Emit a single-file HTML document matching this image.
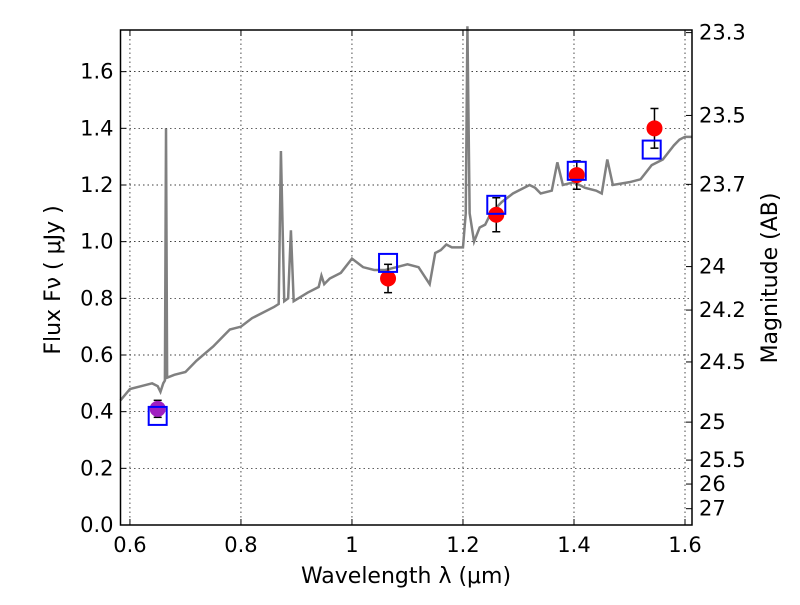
<!DOCTYPE html>
<html><head><meta charset="utf-8"><style>
body{margin:0;background:#fff}
svg{font-family:"DejaVu Sans","Liberation Sans",sans-serif}
</style></head><body>
<svg id="c" width="800" height="600"></svg>
<script>
const specX=[0.583,0.6,0.62,0.64,0.65,0.655,0.66,0.663,0.665,0.667,0.68,0.7,0.72,0.75,0.77,0.78,0.8,0.82,0.84,0.86,0.868,0.872,0.878,0.885,0.89,0.895,0.92,0.94,0.945,0.95,0.96,0.98,1.0,1.02,1.04,1.06,1.08,1.1,1.12,1.14,1.15,1.16,1.17,1.18,1.2,1.205,1.208,1.212,1.22,1.23,1.24,1.25,1.27,1.29,1.3,1.32,1.33,1.34,1.36,1.37,1.38,1.4,1.42,1.44,1.45,1.46,1.47,1.5,1.52,1.54,1.56,1.58,1.59,1.6,1.613];
const specY=[0.44,0.48,0.49,0.5,0.49,0.47,0.5,0.51,1.40,0.52,0.53,0.54,0.58,0.63,0.67,0.69,0.70,0.73,0.75,0.77,0.78,1.32,0.79,0.80,1.04,0.79,0.82,0.84,0.88,0.85,0.87,0.89,0.94,0.91,0.90,0.90,0.91,0.92,0.91,0.85,0.96,0.97,0.99,0.98,0.98,1.1,1.76,1.1,1.0,1.05,1.06,1.10,1.14,1.17,1.18,1.20,1.19,1.17,1.18,1.28,1.20,1.21,1.19,1.18,1.17,1.29,1.20,1.21,1.22,1.27,1.29,1.34,1.36,1.37,1.37];
const obsX=[1.065,1.26,1.405,1.545];
const obsY=[0.87,1.095,1.235,1.40];
const obsErr=[0.05,0.06,0.05,0.07];
const purpleX=[0.65];const purpleY=[0.41];const purpleErr=[0.03];
const modelX=[0.65,1.065,1.26,1.405,1.54];
const modelY=[0.385,0.925,1.13,1.25,1.325];
const xTicks=[0.6,0.8,1.0,1.2,1.4,1.6];
const xTickLabels=["0.6","0.8","1","1.2","1.4","1.6"];
const yTicks=[0,0.2,0.4,0.6,0.8,1.0,1.2,1.4,1.6];
const yTickLabels=["0.0","0.2","0.4","0.6","0.8","1.0","1.2","1.4","1.6"];
const magTicks=[23.3,23.5,23.7,24,24.2,24.5,25,25.5,26,27];
const magTickLabels=["23.3","23.5","23.7","24","24.2","24.5","25","25.5","26","27"];

const L=120.5,R=692,T=30,B=525,x0=0.583,x1=1.6126,y0=0,y1=1.747;
const sx=v=>L+(v-x0)/(x1-x0)*(R-L);
const sy=v=>B-(v-y0)/(y1-y0)*(B-T);
const svg=document.getElementById('c');
const NS='http://www.w3.org/2000/svg';
function mk(t,a,txt){const e=document.createElementNS(NS,t);for(const k in a)e.setAttribute(k,a[k]);if(txt!=null)e.textContent=txt;svg.appendChild(e);return e;}
xTicks.forEach((v,i)=>{
 let g=mk('line',{x1:sx(v),x2:sx(v),y1:T,y2:B,stroke:'#000','stroke-width':0.7,'stroke-dasharray':'1.5,3'});
 
 
 let t=mk('line',{x1:sx(v),x2:sx(v),y1:B,y2:B-6,stroke:'#000'});
 
 
 mk('line',{x1:sx(v),x2:sx(v),y1:T,y2:T+6,stroke:'#000'});
 let l=mk('text',{x:sx(v),y:B+27,'text-anchor':'middle','font-size':21},xTickLabels[i]);
 
 
});
yTicks.forEach((v,i)=>{
 let g=mk('line',{x1:L,x2:R,y1:sy(v),y2:sy(v),stroke:'#000','stroke-width':0.7,'stroke-dasharray':'1.5,3'});
 
 
 mk('line',{x1:L,x2:L+6,y1:sy(v),y2:sy(v),stroke:'#000'});
 let l=mk('text',{x:L-7,y:sy(v)+7,'text-anchor':'end','font-size':21},yTickLabels[i]);
 
 
});
magTicks.forEach((m,i)=>{
 const f=Math.pow(10,(23.9-m)/2.5);
 mk('line',{x1:R,x2:R-6,y1:sy(f),y2:sy(f),stroke:'#000'});
 let l=mk('text',{x:R+7,y:sy(f)+7,'font-size':21},magTickLabels[i]);
 
 
});
let p=mk('polyline',{points:specX.map((v,i)=>sx(v)+','+sy(specY[i])).join(' '),fill:'none',stroke:'#808080','stroke-width':2.5});


function pts(X,Y,E,col,name){X.forEach((v,i)=>{
 const cx=sx(v);
 mk('line',{x1:cx,x2:cx,y1:sy(Y[i]+E[i]),y2:sy(Y[i]-E[i]),stroke:'#000','stroke-width':1.5});
 mk('line',{x1:cx-4,x2:cx+4,y1:sy(Y[i]+E[i]),y2:sy(Y[i]+E[i]),stroke:'#000','stroke-width':1.5});
 mk('line',{x1:cx-4,x2:cx+4,y1:sy(Y[i]-E[i]),y2:sy(Y[i]-E[i]),stroke:'#000','stroke-width':1.5});
 let c=mk('circle',{cx:cx,cy:sy(Y[i]),r:8,fill:col});
 
 
});}
pts(obsX,obsY,obsErr,'#ff0000','observed-point');
pts(purpleX,purpleY,purpleErr,'#a020c0','observed-point-purple');
modelX.forEach((v,i)=>{
 let r=mk('rect',{x:sx(v)-9,y:sy(modelY[i])-9,width:18,height:18,fill:'none',stroke:'#0000ff','stroke-width':2});
 
 
});
let fr=mk('rect',{x:L,y:T,width:R-L,height:B-T,fill:'none',stroke:'#000','stroke-width':1.5});


let xl=mk('text',{x:406,y:583,'text-anchor':'middle','font-size':22},'Wavelength  λ (μm)');


let yl=mk('text',{x:0,y:0,'text-anchor':'middle','font-size':22,transform:'translate(60,280) rotate(-90)'},'Flux  Fν  ( μJy )');


let ml=mk('text',{x:0,y:0,'text-anchor':'middle','font-size':22,transform:'translate(777,278) rotate(-90)'},'Magnitude (AB)');


</script>
</body></html>
